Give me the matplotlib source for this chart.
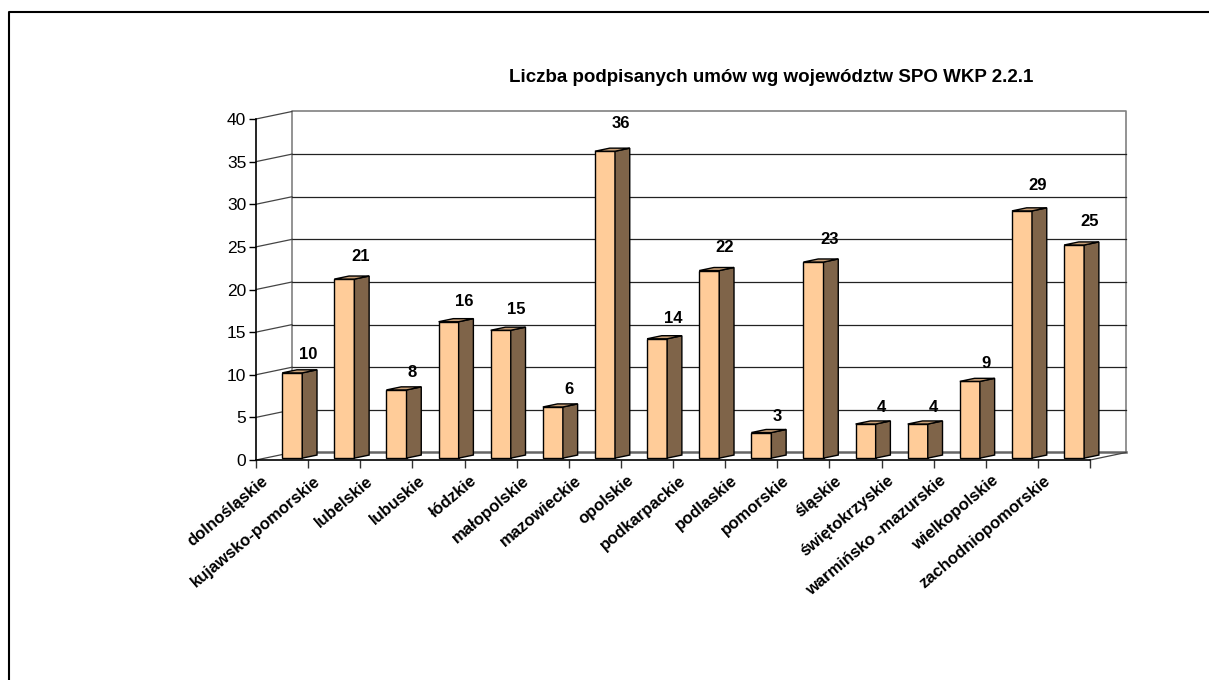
import matplotlib.pyplot as plt
from matplotlib.patches import Polygon
from matplotlib.lines import Line2D
import numpy as np

plt.rcParams['font.family'] = ['Liberation Sans', 'DejaVu Sans']

regions = ['dolnośląskie', 'kujawsko-pomorskie', 'lubelskie', 'lubuskie', 'łódzkie',
           'małopolskie', 'mazowieckie', 'opolskie', 'podkarpackie', 'podlaskie',
           'pomorskie', 'śląskie', 'świętokrzyskie', 'warmińsko -mazurskie',
           'wielkopolskie', 'zachodniopomorskie']
values = [10, 21, 8, 16, 15, 6, 36, 14, 22, 3, 23, 4, 4, 9, 29, 25]
yticks = [0, 5, 10, 15, 20, 25, 30, 35, 40]
title = 'Liczba podpisanych umów wg województw SPO WKP 2.2.1'

FRONT = '#FFCC99'
SIDE = '#7F6449'
TOP = '#C9A077'
WALL = '#808080'

# depth of the 3D box, in data units
DX, DY = 0.69, 0.88
n = len(regions)
ymax = 40


def proj(x, y, d):
    return (x + d * DX, y + d * DY)


fig = plt.figure(figsize=(12.09, 6.8), dpi=100)
ax = fig.add_axes([256 / 1209, 220 / 680, 834 / 1209, 341 / 680])
ax.set_xlim(0, n)
ax.set_ylim(0, ymax)
ax.patch.set_visible(False)
for s in ['top', 'right']:
    ax.spines[s].set_visible(False)
ax.spines['left'].set_linewidth(1.2)
ax.spines['bottom'].set_linewidth(1.2)
ax.set_yticks(yticks)
ax.tick_params(axis='y', direction='out', length=5, width=1, labelsize=12.5, pad=2)
ax.set_xticks(np.arange(n + 1))
ax.set_xticklabels([])
ax.tick_params(axis='x', direction='out', length=6, width=1, color='#333333')

# back wall and floor
kw = dict(clip_on=False, zorder=1)
ax.plot([DX, DX, n + DX, n + DX], [DY, ymax + DY, ymax + DY, DY], color=WALL, lw=1.2, **kw)
ax.plot([DX, n + DX], [DY, DY], color='#666666', lw=1.8, **kw)
for v in yticks[1:-1]:
    ax.plot([DX, n + DX], [v + DY, v + DY], color='#222222', lw=0.9, **kw)
for v in yticks:
    ax.plot([0, DX], [v, v + DY], color='#444444', lw=0.9, **kw)
ax.plot([n, n + DX], [0, DY], color='#444444', lw=0.9, **kw)

# bars
df, db = 0.25, 0.66
x_off, w = 0.33, 0.385
for i, v in enumerate(values):
    x0 = i + x_off
    x1 = x0 + w
    front = [proj(x0, 0, df), proj(x1, 0, df), proj(x1, v, df), proj(x0, v, df)]
    side = [proj(x1, 0, df), proj(x1, 0, db), proj(x1, v, db), proj(x1, v, df)]
    top = [proj(x0, v, df), proj(x1, v, df), proj(x1, v, db), proj(x0, v, db)]
    for pts, col in [(front, FRONT), (side, SIDE), (top, TOP)]:
        ax.add_patch(Polygon(pts, closed=True, facecolor=col, edgecolor='black',
                             lw=1.0, joinstyle='miter', clip_on=False, zorder=3))
    lx, ly = proj(x0 + w / 2, v, db)
    ax.text(lx + 0.02, v + 2.0 + 0.04 * v, str(v), ha='center', va='center',
            fontsize=12, fontweight='bold', zorder=4)

# category labels
for i, name in enumerate(regions):
    ax.text(i + 0.2, -2.2, name, rotation=40, rotation_mode='anchor',
            ha='right', va='center', fontsize=12, fontweight='bold')

fig.text(771 / 1209, 1 - 77 / 680, title, ha='center', va='center',
         fontsize=13.5, fontweight='bold')

# outer frame (cut off on right and bottom)
fig.add_artist(Line2D([9 / 1209, 9 / 1209, 1.0], [0.0, 1 - 11.5 / 680, 1 - 11.5 / 680],
                      color='black', lw=1.5, transform=fig.transFigure))

fig.savefig('out.png', dpi=100)
